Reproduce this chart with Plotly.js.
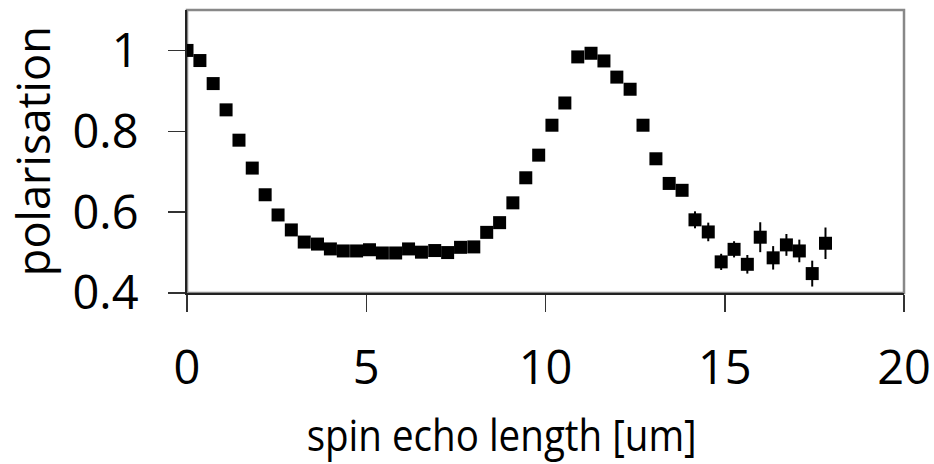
<!DOCTYPE html>
<html>
<head>
<meta charset="utf-8">
<script src="https://cdn.plot.ly/plotly-3.0.1.min.js"></script>
<style>html,body{margin:0;padding:0;background:#fff;}#chart{width:934px;height:464px;}</style>
</head>
<body>
<div id="chart"></div>
<script>
const echoLength = [0, 0.36, 0.73, 1.09, 1.45, 1.82, 2.18, 2.54, 2.91, 3.27,
  3.64, 4.0, 4.36, 4.73, 5.09, 5.45, 5.82, 6.18, 6.54, 6.91,
  7.27, 7.63, 8.0, 8.36, 8.72, 9.09, 9.45, 9.81, 10.18, 10.54,
  10.9, 11.27, 11.63, 11.99, 12.36, 12.72, 13.08, 13.45, 13.81, 14.17,
  14.54, 14.9, 15.26, 15.63, 15.99, 16.35, 16.72, 17.08, 17.44, 17.81];
const polarisation = [1.0, 0.975, 0.918, 0.853, 0.778, 0.709, 0.643, 0.593, 0.556, 0.526,
  0.521, 0.509, 0.504, 0.504, 0.507, 0.499, 0.499, 0.509, 0.501, 0.505,
  0.500, 0.513, 0.514, 0.550, 0.574, 0.623, 0.685, 0.741, 0.815, 0.870,
  0.984, 0.993, 0.974, 0.934, 0.904, 0.815, 0.732, 0.671, 0.654, 0.581,
  0.551, 0.477, 0.508, 0.471, 0.538, 0.487, 0.519, 0.504, 0.448, 0.523];
const polError = [0.005, 0.005, 0.005, 0.005, 0.005, 0.005, 0.005, 0.005, 0.005, 0.005,
  0.005, 0.005, 0.005, 0.005, 0.005, 0.005, 0.005, 0.005, 0.005, 0.005,
  0.005, 0.005, 0.005, 0.005, 0.005, 0.005, 0.005, 0.005, 0.005, 0.005,
  0.005, 0.005, 0.005, 0.005, 0.005, 0.005, 0.006, 0.008, 0.012, 0.021,
  0.023, 0.020, 0.020, 0.023, 0.037, 0.029, 0.027, 0.028, 0.032, 0.039];
const xTicks = [0, 5, 10, 15, 20];
const yTicks = [0.4, 0.6, 0.8, 1.0];
const yTickText = ['0.4', '0.6', '0.8', '1'];
const xTitle = 'spin echo length [um]';
const yTitle = 'polarisation';

const FONT = 'Open Sans, Noto Sans, sans-serif';

const trace = {
  x: echoLength, y: polarisation, type: 'scatter', mode: 'markers',
  marker: {symbol: 'square', size: 13, color: '#000'},
  error_y: {type: 'data', array: polError, visible: true, color: '#000', thickness: 2, width: 0},
  hoverinfo: 'x+y', showlegend: false
};

const layout = {
  width: 934, height: 464,
  margin: {l: 187, r: 30, t: 10, b: 171, pad: 0},
  paper_bgcolor: '#fff', plot_bgcolor: '#fff',
  font: {family: FONT, color: '#000'},
  xaxis: {
    range: [0, 20], tickvals: xTicks, ticktext: xTicks.map(String),
    showgrid: false, zeroline: false, showline: true, linecolor: '#222', linewidth: 2,
    ticks: 'outside', ticklen: 17, tickwidth: 1.5, tickcolor: '#333',
    ticklabelstandoff: 16,
    tickfont: {family: FONT, size: 47, color: '#000'}
  },
  yaxis: {
    range: [0.4, 1.1], tickvals: yTicks, ticktext: yTickText,
    showgrid: false, zeroline: false, showline: true, linecolor: '#222', linewidth: 2,
    ticks: 'outside', ticklen: 17, tickwidth: 1.5, tickcolor: '#333',
    ticklabelstandoff: 20,
    tickfont: {family: FONT, size: 47, color: '#000'}
  },
  shapes: [{type: 'rect', xref: 'paper', yref: 'paper', x0: 0, x1: 1, y0: 0, y1: 1,
    line: {color: '#888', width: 2.5}, layer: 'below'}],
  annotations: [
    {text: xTitle, xref: 'paper', yref: 'paper', x: 0.4393, y: -0.498,
     xanchor: 'center', yanchor: 'middle', showarrow: false,
     font: {family: FONT, size: 44, color: '#000'}},
    {text: yTitle, xref: 'paper', yref: 'paper', x: -0.2175, y: 0.5, textangle: -90,
     xanchor: 'center', yanchor: 'middle', showarrow: false,
     font: {family: FONT, size: 46, color: '#000'}}
  ]
};

// condensed title lettering, as in the reference
const titleLengths = [390, 250];

Plotly.newPlot('chart', [trace], layout, {displayModeBar: false, staticPlot: true}).then(function (gd) {
  const texts = gd.querySelectorAll('.annotation-text');
  texts.forEach(function (t, i) {
    if (titleLengths[i]) {
      t.setAttribute('textLength', titleLengths[i]);
      t.setAttribute('lengthAdjust', 'spacingAndGlyphs');
    }
  });
});
</script>
</body>
</html>
